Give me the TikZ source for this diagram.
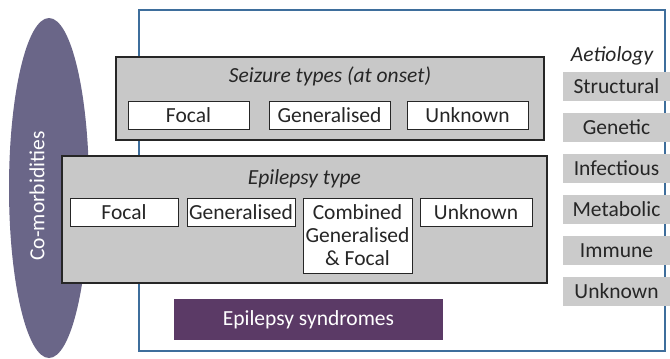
\documentclass[tikz,border=0pt]{standalone}
\usepackage{fontspec}
\setmainfont{Carlito}
\usetikzlibrary{shapes.geometric}

\begin{document}
\begin{tikzpicture}[
    x=1pt,y=-1pt,
    every node/.style={inner sep=0pt,font=\fontsize{21.5}{23}\selectfont,text=txtcol},
    groupbox/.style={draw=boxline,fill=boxgray,line width=2pt},
    typebox/.style={draw=boxline,fill=white,line width=1pt,minimum height=28pt},
    aetbox/.style={fill=aetgray,minimum width=107pt,minimum height=29pt},
    title/.style={font=\fontsize{21.5}{23}\selectfont\itshape}
  ]
  \definecolor{txtcol}{HTML}{262626}
  \definecolor{boxline}{HTML}{262626}
  \definecolor{boxgray}{HTML}{C8C8C8}
  \definecolor{aetgray}{HTML}{CBCBCB}
  \definecolor{framecol}{HTML}{3E6E9C}
  \definecolor{comorbcol}{HTML}{6A6688}
  \definecolor{syndcol}{HTML}{5B3A66}

  \useasboundingbox (0,0) rectangle (670,359);

  % outer frame and co-morbidities
  \node[draw=framecol,line width=1.3pt,minimum width=526pt,minimum height=341pt] at (402,180.5) (frame) {};
  \node[ellipse,fill=comorbcol,minimum width=80pt,minimum height=340pt] at (49,188) (comorb) {};
  \node[rotate=90,text=white] at (37,196) (comorblabel) {Co-morbidities};

  % seizure types
  \node[groupbox,minimum width=428pt,minimum height=83pt] at (330,98.5) (seizure) {};
  \node[title] at (330,76) (seizuretitle) {Seizure types (at onset)};
  \node[typebox,minimum width=121pt] at (188.5,115) (szfocal) {Focal};
  \node[typebox,minimum width=121pt] at (329.5,115) (szgen) {Generalised};
  \node[typebox,minimum width=121pt] at (467.5,115) (szunknown) {Unknown};

  % epilepsy type
  \node[groupbox,minimum width=485pt,minimum height=127pt] at (304.5,219.5) (eptype) {};
  \node[title] at (304.5,179) (eptitle) {Epilepsy type};
  \node[typebox,minimum width=108pt] at (124,212) (epfocal) {Focal};
  \node[typebox,minimum width=108pt] at (241,212) (epgen) {Generalised};
  \node[typebox,minimum width=109pt,minimum height=75pt,align=center,
        font=\fontsize{21.5}{23}\selectfont] at (357.5,235.5) (epcomb) {Combined\\Generalised\\\& Focal};
  \node[typebox,minimum width=112pt] at (476,212) (epunknown) {Unknown};

  % syndromes
  \node[fill=syndcol,text=white,minimum width=269pt,minimum height=41pt] at (308.5,319.5) (syndromes) {Epilepsy syndromes};

  % aetiology
  \node[title] at (612,56) (aetiology) {Aetiology};
  \foreach \name [count=\i from 0] in {Structural,Genetic,Infectious,Metabolic,Immune,Unknown}
    \node[aetbox] at (616.5,86.5+41*\i) (aet\i) {\name};
\end{tikzpicture}
\end{document}
